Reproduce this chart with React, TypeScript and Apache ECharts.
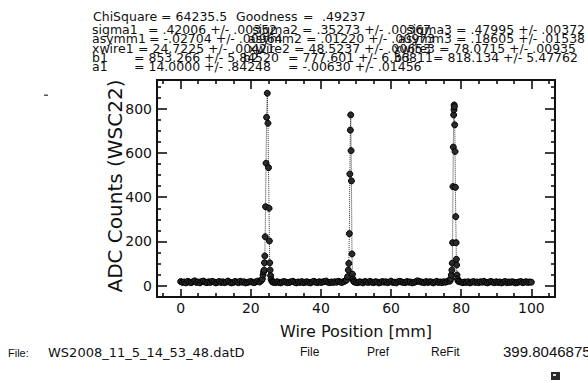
import { useEffect, useRef } from "react";
import * as echarts from "echarts";

// ---- axis ticks / labels ----
const xMajorTicks = [0, 20, 40, 60, 80, 100];
const xMinorTicks = [-5, 5, 10, 15, 25, 30, 35, 45, 50, 55, 65, 70, 75, 85, 90, 95, 105];
const yMajorTicks = [0, 200, 400, 600, 800];
const yMinorTicks = [50, 100, 150, 250, 300, 350, 450, 500, 550, 650, 700, 750, 850, 900];

// ---- scan data (Wire Position [mm] vs ADC Counts) ----
const scanStep = 0.5;
const baseline1Start = 0;
const baseline1Counts = [18, 14, 16, 12, 19, 15, 13, 17, 21, 14, 16, 12, 18, 20, 15, 13, 17, 14, 19, 16, 12, 15, 18, 14, 17, 13, 16, 20, 15, 12, 14, 18, 16, 13, 19, 15, 17, 12, 14, 16, 18, 15, 13, 17, 20, 16, 22];
const peak1Positions = [23.3, 23.5, 23.65, 23.8, 23.9, 24.0, 24.1, 24.2, 24.35, 24.5, 24.7, 24.9, 25.05, 25.2, 25.3, 25.4, 25.5, 25.65, 25.8, 26.0, 26.2];
const peak1Counts = [30, 48, 62, 70, 103, 134, 221, 357, 554, 762, 871, 735, 534, 350, 202, 103, 70, 45, 28, 20, 16];
const baseline2Start = 26.5;
const baseline2Counts = [15, 13, 17, 14, 12, 16, 18, 15, 13, 14, 17, 19, 15, 12, 16, 14, 18, 13, 15, 17, 14, 12, 16, 19, 15, 13, 17, 14, 16, 18, 20, 15, 13, 16, 14, 17, 15, 19, 16, 14, 18, 22];
const peak2Positions = [47.3, 47.6, 47.8, 47.95, 48.1, 48.25, 48.4, 48.5, 48.6, 48.7, 48.85, 49.0, 49.15, 49.3];
const peak2Counts = [25, 40, 70, 100, 235, 505, 704, 773, 611, 474, 143, 51, 30, 20];
const baseline3Start = 49.5;
const baseline3Counts = [16, 14, 13, 17, 15, 12, 18, 16, 14, 19, 15, 13, 17, 16, 12, 14, 18, 15, 17, 13, 16, 20, 14, 15, 12, 17, 19, 16, 14, 13, 18, 15, 16, 12, 14, 17, 21, 19, 16, 15, 13, 18, 14, 17, 16, 12, 15, 19, 14, 16, 13, 17, 15, 18, 22];
const peak3Positions = [76.8, 77.0, 77.2, 77.35, 77.45, 77.55, 77.65, 77.75, 77.85, 77.95, 78.0, 78.05, 78.15, 78.25, 78.35, 78.45, 78.55, 78.62, 78.7, 78.8, 78.95, 79.1];
const peak3Counts = [20, 30, 48, 70, 101, 194, 448, 627, 773, 796, 818, 810, 728, 607, 445, 312, 194, 119, 93, 48, 30, 20];
const baseline4Start = 79.5;
const baseline4Counts = [18, 15, 13, 16, 14, 17, 12, 15, 18, 14, 16, 13, 17, 15, 19, 14, 12, 16, 18, 15, 13, 17, 14, 16, 12, 15, 18, 13, 16, 14, 17, 15, 12, 14, 16, 18, 13, 15, 17, 14, 16, 15];

// ---- fit result texts ----
const fitHeader = ["ChiSquare = 64235.5", "Goodness", "=", ".49237"];
const col1Names = ["sigma1", "asymm1", "xwire1", "b1     ", "a1     "];
const col1Values = ["= .42006 +/- .00352", "= -.02704 +/- .00964", "= 24.7225 +/- .00421", "= 853.266 +/- 5.84520", "= 14.0000 +/- .84248"];
const col2Names = ["sigma2", "asymm2", "xwire2", "b2     ", ""];
const col2Values = ["= .35273 +/- .00367", "= .01220 +/- .00973", "= 48.5237 +/- .00653", "= 777.601 +/- 6.36811", "= -.00630 +/- .01456"];
const col3Names = ["sigma3", "asymm3", "xwire3", "b3     "];
const col3Values = ["= .47995 +/- .00372", "= .18605 +/- .01538", "= 78.0715 +/- .00935", "= 818.134 +/- 5.47762"];

const xTitle = "Wire Position [mm]";
const yTitle = "ADC Counts (WSC22)";
const fileLabel = "File:";
const fileName = "WS2008_11_5_14_53_48.datD";
const buttonLabels = ["File", "Pref", "ReFit"];
const readout = "399.8046875";

function segment(start: number, counts: number[]) {
  return counts.map((c, i) => [start + i * scanStep, c]);
}
function pairs(xs: number[], ys: number[]) {
  return xs.map((x, i) => [x, ys[i]]);
}

const FONT = '"DejaVu Sans", Verdana, sans-serif';
const NARROW = '"Liberation Sans", Arial, sans-serif';

function txt(text: string, x: number, y: number, size: number, align = "left", family = FONT, extra: any = {}) {
  return {
    type: "text",
    x,
    y,
    silent: true,
    ...extra,
    style: {
      text,
      fill: "#111",
      fontSize: size,
      fontFamily: family,
      textAlign: align,
      align,
      textVerticalAlign: "middle",
      verticalAlign: "middle",
    },
  };
}

export default function App() {
  const ref = useRef<HTMLDivElement>(null);

  useEffect(() => {
    if (!ref.current) return;
    const chart = echarts.init(ref.current, null, { renderer: "svg" });

    const data = [
      ...segment(baseline1Start, baseline1Counts),
      ...pairs(peak1Positions, peak1Counts),
      ...segment(baseline2Start, baseline2Counts),
      ...pairs(peak2Positions, peak2Counts),
      ...segment(baseline3Start, baseline3Counts),
      ...pairs(peak3Positions, peak3Counts),
      ...segment(baseline4Start, baseline4Counts),
    ];

    const X_MIN = -6.75, X_MAX = 106.75, Y_MIN = -52, Y_MAX = 931;
    const AX = "#111";

    const xBase = (position: string, ticks: number[], len: number, line: boolean, labels: boolean) => ({
      type: "value",
      gridIndex: 0,
      position,
      min: X_MIN,
      max: X_MAX,
      splitLine: { show: false },
      axisLine: { show: line, onZero: false, lineStyle: { color: AX, width: 2 } },
      axisTick: { show: true, inside: true, length: len, customValues: ticks, lineStyle: { color: AX, width: 1.6 } },
      axisLabel: labels
        ? { show: true, customValues: ticks, margin: 4, color: "#111", fontSize: 14, fontFamily: FONT }
        : { show: false },
    });
    const yBase = (position: string, ticks: number[], len: number, line: boolean, labels: boolean) => ({
      type: "value",
      gridIndex: 0,
      position,
      min: Y_MIN,
      max: Y_MAX,
      splitLine: { show: false },
      axisLine: { show: line, onZero: false, lineStyle: { color: AX, width: 2 } },
      axisTick: { show: true, inside: true, length: len, customValues: ticks, lineStyle: { color: AX, width: 1.6 } },
      axisLabel: labels
        ? { show: true, customValues: ticks, margin: 5, color: "#111", fontSize: 14, fontFamily: FONT }
        : { show: false },
    });

    const rowY = [29, 38.5, 48, 57, 66.5];
    const col1Eq = [148, 149, 138, 134, 134];
    const col2Eq = [302, 306, 294, 288, 288];
    const col3Eq = [456, 456, 439, 433];
    const colStart = [92, 243, 394];

    const graphics: any[] = [];
    graphics.push(txt(fitHeader[0], 93, 16, 12.5));
    graphics.push(txt(fitHeader[1], 236, 16, 12.5));
    graphics.push(txt(fitHeader[2], 303, 16, 12.5));
    graphics.push(txt(fitHeader[3], 322, 16, 12.5));

    const addCol = (names: string[], values: string[], eqs: number[], start: number, leftNames: boolean) => {
      values.forEach((v, r) => {
        const n = names[r];
        if (n) {
          if (leftNames || n.includes(" ")) graphics.push(txt(n.trim(), start, rowY[r], 12.5));
          else graphics.push(txt(n, eqs[r] - 4, rowY[r], 12.5, "right"));
        }
        graphics.push(txt(v, eqs[r], rowY[r], 12.5));
      });
    };
    addCol(col1Names, col1Values, col1Eq, colStart[0], true);
    addCol(col2Names, col2Values, col2Eq, colStart[1], false);
    addCol(col3Names, col3Values, col3Eq, colStart[2], false);

    graphics.push(txt(yTitle, 115, 186, 20, "center", FONT, { rotation: Math.PI / 2 }));
    graphics.push(txt(xTitle, 356, 331, 16, "center"));

    graphics.push(txt(fileLabel, 8, 353, 11, "left", NARROW));
    graphics.push(txt(fileName, 48, 352, 13, "left"));
    graphics.push(txt(buttonLabels[0], 300, 352, 12, "left", NARROW));
    graphics.push(txt(buttonLabels[1], 367, 352, 12, "left", NARROW));
    graphics.push(txt(buttonLabels[2], 431, 352, 12, "left", NARROW));
    graphics.push(txt(readout, 503, 351, 15, "left", NARROW));

    graphics.push({ type: "rect", silent: true, shape: { x: 44, y: 94.5, width: 4, height: 1.5 }, style: { fill: "#555" } });
    graphics.push({ type: "rect", silent: true, shape: { x: 551, y: 372, width: 9, height: 8 }, style: { fill: "#2a2a2a" } });
    graphics.push({ type: "rect", silent: true, shape: { x: 553, y: 374, width: 3, height: 2 }, style: { fill: "#ddd" } });

    chart.setOption({
      animation: false,
      backgroundColor: "#fff",
      grid: { left: 157, top: 80, width: 398, height: 217, containLabel: false },
      xAxis: [
        xBase("bottom", xMajorTicks, 8, true, true),
        xBase("bottom", xMinorTicks, 4, false, false),
        xBase("top", xMajorTicks, 9, true, false),
        xBase("top", xMinorTicks, 4, false, false),
      ],
      yAxis: [
        yBase("left", yMajorTicks, 10, true, true),
        yBase("left", yMinorTicks, 4, false, false),
        yBase("right", yMajorTicks, 10, true, false),
        yBase("right", yMinorTicks, 4, false, false),
      ],
      series: [
        {
          type: "line",
          xAxisIndex: 0,
          yAxisIndex: 0,
          data,
          symbol: "circle",
          symbolSize: 6,
          showSymbol: true,
          showAllSymbol: true,
          silent: true,
          itemStyle: { color: "#2a2a2a", borderColor: "#000", borderWidth: 1 },
          lineStyle: { type: "dotted", width: 1, color: "#333" },
        },
      ],
      graphic: graphics,
    });

    return () => chart.dispose();
  }, []);

  return (
    <div
      ref={ref}
      style={{ position: "fixed", left: 0, top: 0, width: 588, height: 383, background: "#fff" }}
    />
  );
}
